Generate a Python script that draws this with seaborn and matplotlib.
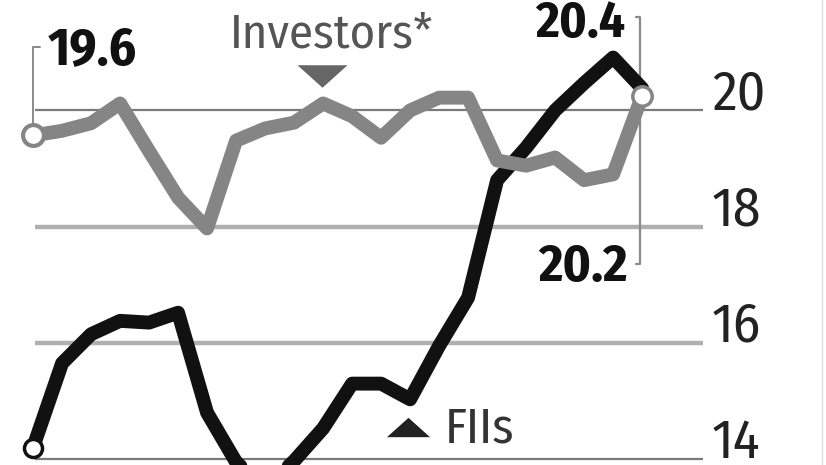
import matplotlib
matplotlib.use('Agg')
import matplotlib.pyplot as plt
import matplotlib.transforms as mtransforms
import seaborn as sns
import pandas as pd

# Series values, one point per period
periods = list(range(22))
investors = [19.57, 19.65, 19.78, 20.12, 19.3, 18.5, 17.97, 19.48, 19.69, 19.79, 20.12,
             19.9, 19.53, 20.0, 20.22, 20.22, 19.14, 19.05, 19.19, 18.8, 18.9, 20.25]
fiis = [14.2, 15.65, 16.15, 16.38, 16.35, 16.52, 14.8, 13.95, 13.5, 13.97, 14.53,
        15.3, 15.3, 15.03, 15.95, 16.78, 18.8, 19.36, 20.0, 20.47, 20.91, 20.38]
y_ticks = [14, 16, 18, 20]
series_names = ['FIIs', 'Investors*']
start_label = '19.6'
end_labels = ['20.4', '20.2']

df = pd.DataFrame({
    'period': periods * 2,
    'value': fiis + investors,
    'series': ['FIIs'] * len(fiis) + ['Investors*'] * len(investors),
})

sns.set_style('white')
plt.rcParams['font.family'] = ['Fira Sans Condensed', 'Roboto Condensed', 'Roboto', 'DejaVu Sans']

fig = plt.figure(figsize=(8.26, 4.65), dpi=100)
ax = fig.add_axes([0, 0, 1, 1])

# grid lines (stop short of the labels on the right)
grid_styles = {20: ('#7a7a7a', 1.6), 18: ('#b0b0b0', 3.2), 16: ('#b0b0b0', 3.2), 14: ('#7a7a7a', 1.6)}
for v in y_ticks:
    c, lw = grid_styles[v]
    ax.hlines(v, 0.05, 23.1, color=c, lw=lw, zorder=1)

# tick labels sit on top of their grid lines, at the right
trans = mtransforms.blended_transform_factory(ax.transAxes, ax.transData)
for v in y_ticks:
    ax.text(712 / 826, v + 0.02, str(v), transform=trans, fontsize=40,
            color='#222222', va='baseline', ha='left')

sns.lineplot(data=df, x='period', y='value', hue='series', hue_order=series_names,
             palette={'FIIs': '#111111', 'Investors*': '#858585'}, linewidth=10,
             legend=False, ax=ax, sort=False)
ax.lines[0].set_zorder(3)
ax.lines[1].set_zorder(4)

# white end markers
ax.plot(periods[0], fiis[0], 'o', ms=13, mfc='white', mec='#111111', mew=2.5, zorder=5)
ax.plot(periods[0], investors[0], 'o', ms=15, mfc='white', mec='#858585', mew=3, zorder=5)
ax.plot(periods[-1], investors[-1], 'o', ms=14, mfc='white', mec='#858585', mew=2.5, zorder=5)

# brackets to the value labels
ax.plot([0.25, 0, 0], [21.1, 21.1, 19.75], color='#8a8a8a', lw=1.4, zorder=2)
ax.plot([20.8, 20.93, 20.93, 20.8], [21.6, 21.6, 17.36, 17.36], color='#8a8a8a', lw=1.6, zorder=2)

ax.text(0.52, 20.78, start_label, fontsize=38, fontweight='bold', color='#111111', va='baseline')
ax.text(17.31, 21.26, end_labels[0], fontsize=37, fontweight='bold', color='#111111', va='baseline')
ax.text(17.41, 17.07, end_labels[1], fontsize=38, fontweight='bold', color='#111111', va='baseline')

# series labels with pointers
tri_down = [(-1, 0.45), (1, 0.45), (0, -0.45)]
tri_up = [(-1, -0.45), (1, -0.45), (0, 0.45)]
ax.plot(9.97, 20.59, marker=tri_down, ms=36, color='#666666', mew=0, zorder=6)
ax.text(6.79, 21.09, series_names[1], fontsize=35, color='#555555', va='baseline')
ax.plot(12.93, 14.55, marker=tri_up, ms=31, color='#222222', mew=0, zorder=6)
ax.text(14.2, 14.28, series_names[0], fontsize=36, color='#333333', va='baseline')

ax.axvline(27.2, color='#dddddd', lw=1)

ax.set_xlim(-1.14, 27.34)
ax.set_ylim(13.9, 21.9)
ax.axis('off')

fig.savefig('out.png', dpi=100, facecolor='white')
